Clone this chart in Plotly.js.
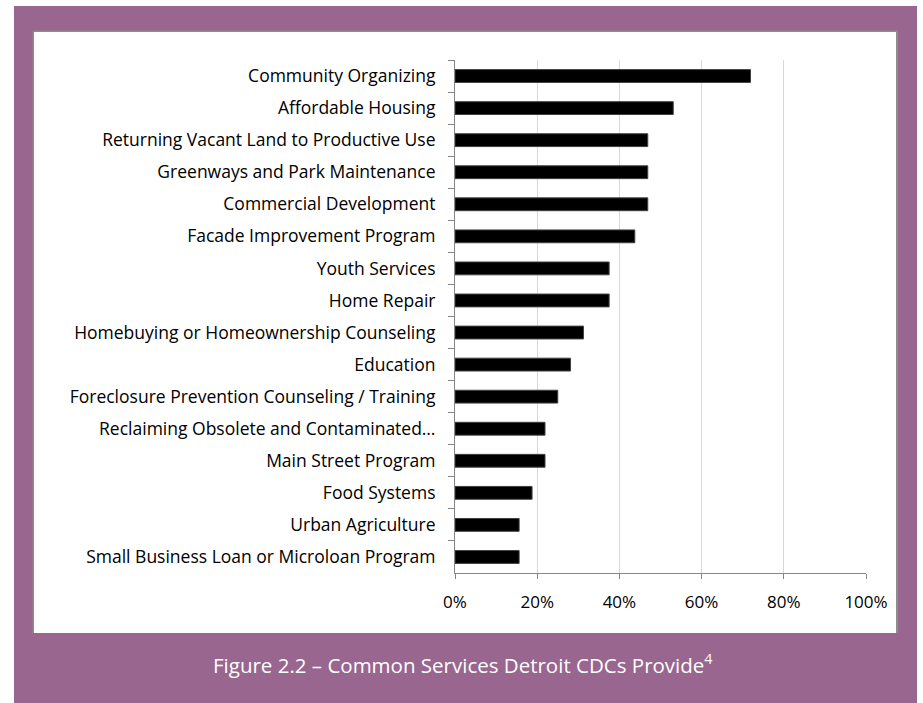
<!DOCTYPE html>
<html>
<head>
<meta charset="utf-8">
<script src="https://cdn.plot.ly/plotly-3.0.1.min.js"></script>
<style>html,body{margin:0;padding:0;background:#ffffff;}</style>
</head>
<body>
<div id="chart" style="width:923px;height:703px;"></div>
<script>
const categories = [
  "Community Organizing",
  "Affordable Housing",
  "Returning Vacant Land to Productive Use",
  "Greenways and Park Maintenance",
  "Commercial Development",
  "Facade Improvement Program",
  "Youth Services",
  "Home Repair",
  "Homebuying or Homeownership Counseling",
  "Education",
  "Foreclosure Prevention Counseling / Training",
  "Reclaiming Obsolete and Contaminated…",
  "Main Street Program",
  "Food Systems",
  "Urban Agriculture",
  "Small Business Loan or Microloan Program"
];
const shares = [0.719, 0.531, 0.469, 0.469, 0.469, 0.4375, 0.375, 0.375, 0.3125, 0.281, 0.25, 0.219, 0.219, 0.1875, 0.156, 0.156];
const xTickValues = [0, 0.2, 0.4, 0.6, 0.8, 1.0];
const figureTitle = "Figure 2.2 – Common Services Detroit CDCs Provide<sup>4</sup>";

const W = 923, H = 703;
const L = 455, R = 866, T = 60, B = 573;
const px2x = p => (p - L) / (R - L);
const px2y = p => (B - p) / (B - T);
const FONT = '"Open Sans", Lato, sans-serif';

const trace = {
  type: 'bar',
  orientation: 'h',
  y: categories,
  x: shares,
  marker: {color: '#000000', line: {color: '#404040', width: 1}},
  width: 0.4,
  hoverinfo: 'skip'
};

const layout = {
  width: W, height: H,
  margin: {l: L, r: W - R, t: T, b: H - B, pad: 0},
  paper_bgcolor: '#ffffff',
  plot_bgcolor: 'rgba(0,0,0,0)',
  showlegend: false,
  font: {family: FONT, size: 17.5, color: '#000'},
  xaxis: {
    range: [0, 1],
    tickvals: xTickValues,
    tickformat: '.0%',
    showgrid: true, gridcolor: '#d9d9d9', gridwidth: 1,
    showline: true, linecolor: '#868686', linewidth: 1,
    ticks: 'outside', ticklen: 5, tickcolor: '#868686',
    ticklabelstandoff: 9,
    zeroline: false,
    tickfont: {family: FONT, size: 17, color: '#000'},
    fixedrange: true
  },
  yaxis: {
    type: 'category',
    autorange: 'reversed',
    showline: true, linecolor: '#868686', linewidth: 1,
    ticks: 'outside', ticklen: 6, tickcolor: '#868686',
    tickson: 'boundaries',
    ticklabelstandoff: 15,
    showgrid: false, zeroline: false,
    tickfont: {family: FONT, size: 17.5, color: '#000'},
    fixedrange: true
  },
  shapes: [
    {type: 'rect', xref: 'paper', yref: 'paper', layer: 'below',
     x0: px2x(14), x1: px2x(917), y0: px2y(703), y1: px2y(6),
     fillcolor: '#99668f', line: {width: 0}},
    {type: 'rect', xref: 'paper', yref: 'paper', layer: 'below',
     x0: px2x(32.5), x1: px2x(898), y0: px2y(633), y1: px2y(30.5),
     fillcolor: '#8c8c8c', line: {width: 0}},
    {type: 'rect', xref: 'paper', yref: 'paper', layer: 'below',
     x0: px2x(34), x1: px2x(896), y0: px2y(633), y1: px2y(32),
     fillcolor: '#ffffff', line: {width: 0}}
  ],
  annotations: [
    {xref: 'paper', yref: 'paper', x: px2x(463), y: px2y(664),
     xanchor: 'center', yanchor: 'middle', showarrow: false,
     text: figureTitle,
     font: {family: FONT, size: 20.5, color: '#ffffff'}}
  ]
};

Plotly.newPlot('chart', [trace], layout, {displayModeBar: false, staticPlot: true});
</script>
</body>
</html>
